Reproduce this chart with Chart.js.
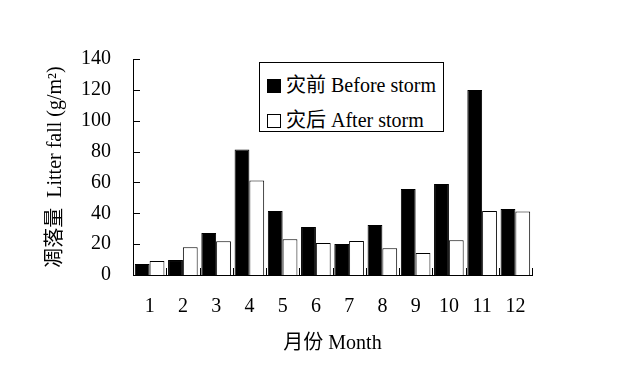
<!DOCTYPE html>
<html>
<head>
<meta charset="utf-8">
<script src="https://cdn.jsdelivr.net/npm/chart.js@4.4.0/dist/chart.umd.min.js"></script>
<style>
  body { margin: 0; background: #fff; }
  #wrap { position: relative; width: 622px; height: 391px; }
  #legend {
    position: absolute; left: 259px; top: 62px; width: 183px; height: 68px;
    border: 1px solid #000; background: #fff;
    font-family: 'Liberation Serif', 'Noto Sans CJK SC', serif; font-size: 20px; color: #000;
  }
  .row { position: absolute; left: 7px; height: 22px; line-height: 22px; white-space: nowrap; }
  .sw { display: inline-block; width: 12px; height: 12px; border: 1px solid #000; vertical-align: -1px; margin-right: 5px; }
</style>
</head>
<body>
<div id="wrap">
  <canvas id="chart" width="622" height="391"></canvas>
  <div id="legend">
    <div class="row" style="top:11px"><span class="sw" style="background:#000"></span>灾前 Before storm</div>
    <div class="row" style="top:46px"><span class="sw" style="background:#fff"></span>灾后 After storm</div>
  </div>
</div>
<script>
// ================== Data ==================
const months = ["1", "2", "3", "4", "5", "6", "7", "8", "9", "10", "11", "12"];
const beforeStorm = [7.1, 9.7, 27.2, 81.4, 41.5, 31.1, 20.1, 32.4, 55.7, 59, 119.9, 42.8];
const afterStorm = [9, 18, 21.8, 61.3, 23.1, 20.7, 22, 17.3, 14.3, 22.5, 41.5, 41.2];
const yTicks = [0, 20, 40, 60, 80, 100, 120, 140];

const FONT = "'Liberation Serif', 'Noto Sans CJK SC', serif";

// inward tick marks on both axes
const innerTicks = {
  id: "innerTicks",
  afterDraw(chart) {
    const { ctx, scales: { x, y } } = chart;
    ctx.save();
    ctx.strokeStyle = "#000";
    ctx.lineWidth = 1;
    ctx.beginPath();
    yTicks.forEach((v) => {
      const py = Math.round(y.getPixelForValue(v)) + 0.5;
      ctx.moveTo(x.left, py);
      ctx.lineTo(x.left + 7, py);
    });
    const half = (x.getPixelForValue(1) - x.getPixelForValue(0)) / 2;
    for (let i = 0; i < months.length; i++) {
      const px = Math.round(x.getPixelForValue(i) + half) + 0.5;
      ctx.moveTo(px, y.bottom);
      ctx.lineTo(px, y.bottom - 7);
    }
    ctx.stroke();
    ctx.restore();
  },
};

new Chart(document.getElementById("chart"), {
  type: "bar",
  data: {
    labels: months,
    datasets: [
      { label: "灾前 Before storm", data: beforeStorm, backgroundColor: "#000", borderColor: "#000", borderWidth: 1 },
      { label: "灾后 After storm", data: afterStorm, backgroundColor: "#fff", borderColor: "#000", borderWidth: 1 },
    ],
  },
  options: {
    responsive: false,
    animation: false,
    layout: { padding: { left: 0, right: 90, top: 59, bottom: 0 } },
    datasets: { bar: { categoryPercentage: 0.89, barPercentage: 1.0 } },
    plugins: { legend: { display: false }, tooltip: { enabled: false } },
    scales: {
      x: {
        grid: { display: false, drawTicks: false },
        border: { display: true, color: "#000", width: 1 },
        ticks: { color: "#000", font: { family: FONT, size: 20 }, padding: 20, maxRotation: 0 },
        title: { display: true, text: "月份 Month", color: "#000", font: { family: FONT, size: 20 }, padding: { top: 0, bottom: 35 } },
        afterFit(scale) { scale.height = 116; },
      },
      y: {
        min: 0,
        max: 140,
        grid: { display: false, drawTicks: false },
        border: { display: true, color: "#000", width: 1 },
        ticks: { stepSize: 20, color: "#000", font: { family: FONT, size: 20 }, padding: 22 },
        title: { display: true, text: "凋落量  Litter fall (g/m²)", color: "#000", font: { family: FONT, size: 20 }, padding: { top: 44, bottom: 0 } },
        afterFit(scale) { scale.width = 133; },
      },
    },
  },
  plugins: [innerTicks],
});
</script>
</body>
</html>
